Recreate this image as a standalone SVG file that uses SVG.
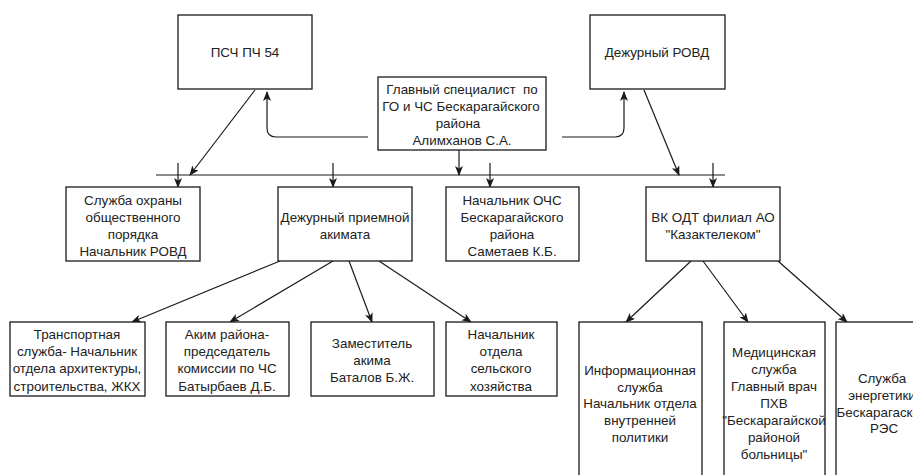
<svg xmlns="http://www.w3.org/2000/svg" width="913" height="475" viewBox="0 0 913 475">
<style>
rect{fill:#fff;stroke:#1a1a1a;stroke-width:1.3}
text{font-family:"Liberation Sans",Arial,sans-serif;font-size:13.4px;fill:#222;text-anchor:middle}
.c{fill:none;stroke:#1a1a1a;stroke-width:1.2}
</style>
<defs>
<marker id="a" markerWidth="10" markerHeight="8" refX="9" refY="4" orient="auto" markerUnits="userSpaceOnUse">
<path d="M0,0 L10,4 L0,8 L2.5,4 z" fill="#1a1a1a"/>
</marker>
</defs>
<rect width="913" height="475" style="fill:#fff;stroke:none"/>
<g id="connectors">
<line class="c" x1="156" y1="175" x2="725" y2="175"/>
<path class="c" d="M368,137 L276,137 Q267,137 267,128 L267,92" marker-end="url(#a)"/>
<path class="c" d="M562,137 L615,137 Q624,137 624,128 L624,92" marker-end="url(#a)"/>
<line class="c" x1="459" y1="150" x2="459" y2="175" marker-end="url(#a)"/>
<line class="c" x1="255" y1="90" x2="190" y2="175" marker-end="url(#a)"/>
<line class="c" x1="644" y1="90" x2="679" y2="175" marker-end="url(#a)"/>
<line class="c" x1="178" y1="163" x2="178" y2="187" marker-end="url(#a)"/>
<line class="c" x1="333" y1="163" x2="333" y2="187" marker-end="url(#a)"/>
<line class="c" x1="490" y1="163" x2="490" y2="187" marker-end="url(#a)"/>
<line class="c" x1="713" y1="163" x2="713" y2="187" marker-end="url(#a)"/>
<line class="c" x1="280" y1="261" x2="132" y2="322" marker-end="url(#a)"/>
<line class="c" x1="333" y1="261" x2="230" y2="322" marker-end="url(#a)"/>
<line class="c" x1="349" y1="261" x2="372" y2="322" marker-end="url(#a)"/>
<line class="c" x1="379" y1="261" x2="471" y2="322" marker-end="url(#a)"/>
<line class="c" x1="691" y1="261" x2="626" y2="322" marker-end="url(#a)"/>
<line class="c" x1="703" y1="261" x2="748" y2="322" marker-end="url(#a)"/>
<line class="c" x1="778" y1="261" x2="847" y2="322" marker-end="url(#a)"/>
</g>
<g id="psch">
<rect x="178" y="15" width="134" height="74"/>
<text x="245" y="57">ПСЧ ПЧ 54</text>
</g>
<g id="rovd">
<rect x="590" y="15" width="135" height="74"/>
<text x="657" y="57">Дежурный РОВД</text>
</g>
<g id="main">
<rect x="378" y="77" width="168" height="73"/>
<text x="462" y="94">Главный специалист&#160; по</text>
<text x="461" y="111">ГО и ЧС Бескарагайского</text>
<text x="458" y="128">района</text>
<text x="462" y="145">Алимханов С.А.</text>
</g>
<g id="okhrana">
<rect x="66" y="187" width="134" height="74"/>
<text x="133" y="205">Служба охраны</text>
<text x="133" y="222">общественного</text>
<text x="133" y="239">порядка</text>
<text x="133" y="256">Начальник РОВД</text>
</g>
<g id="priemnaya">
<rect x="278" y="187" width="134" height="74"/>
<text x="345" y="222">Дежурный приемной</text>
<text x="345" y="239">акимата</text>
</g>
<g id="ochs">
<rect x="446" y="187" width="133" height="74"/>
<text x="512" y="205">Начальник ОЧС</text>
<text x="512" y="222">Бескарагайского</text>
<text x="512" y="239">района</text>
<text x="512" y="256">Саметаев К.Б.</text>
</g>
<g id="vkodt">
<rect x="646" y="187" width="134" height="74"/>
<text x="713" y="222">ВК ОДТ филиал АО</text>
<text x="713" y="239">"Казактелеком"</text>
</g>
<g id="transport">
<rect x="10" y="322" width="135" height="74"/>
<text x="77" y="339">Транспортная</text>
<text x="77" y="356">служба- Начальник</text>
<text x="77" y="373">отдела архитектуры,</text>
<text x="77" y="391">строительства, ЖКХ</text>
</g>
<g id="akim">
<rect x="166" y="322" width="123" height="74"/>
<text x="227" y="339">Аким района-</text>
<text x="227" y="356">председатель</text>
<text x="227" y="373">комиссии по ЧС</text>
<text x="227" y="391">Батырбаев Д.Б.</text>
</g>
<g id="zamestitel">
<rect x="311" y="322" width="123" height="74"/>
<text x="372" y="348">Заместитель</text>
<text x="372" y="365">акима</text>
<text x="372" y="382">Баталов Б.Ж.</text>
</g>
<g id="selkhoz">
<rect x="446" y="322" width="111" height="74"/>
<text x="501" y="339">Начальник</text>
<text x="501" y="356">отдела</text>
<text x="501" y="373">сельского</text>
<text x="501" y="391">хозяйства</text>
</g>
<g id="info">
<rect x="579" y="322" width="123" height="170"/>
<text x="640" y="375">Информационная</text>
<text x="640" y="392">служба</text>
<text x="640" y="408">Начальник отдела</text>
<text x="640" y="425">внутренней</text>
<text x="640" y="442">политики</text>
</g>
<g id="med">
<rect x="724" y="322" width="101" height="170"/>
<text x="774" y="357">Медицинская</text>
<text x="774" y="374">служба</text>
<text x="774" y="391">Главный врач</text>
<text x="774" y="408">ПХВ</text>
<text x="774" y="425">"Бескарагайской</text>
<text x="774" y="442">районой</text>
<text x="774" y="459">больницы"</text>
</g>
<g id="energ">
<rect x="836" y="322" width="100" height="170"/>
<text x="882" y="383">Служба</text>
<text x="882" y="400">энергетики</text>
<text x="882" y="417">Бескарагаской</text>
<text x="884" y="433">РЭС</text>
</g>
</svg>
